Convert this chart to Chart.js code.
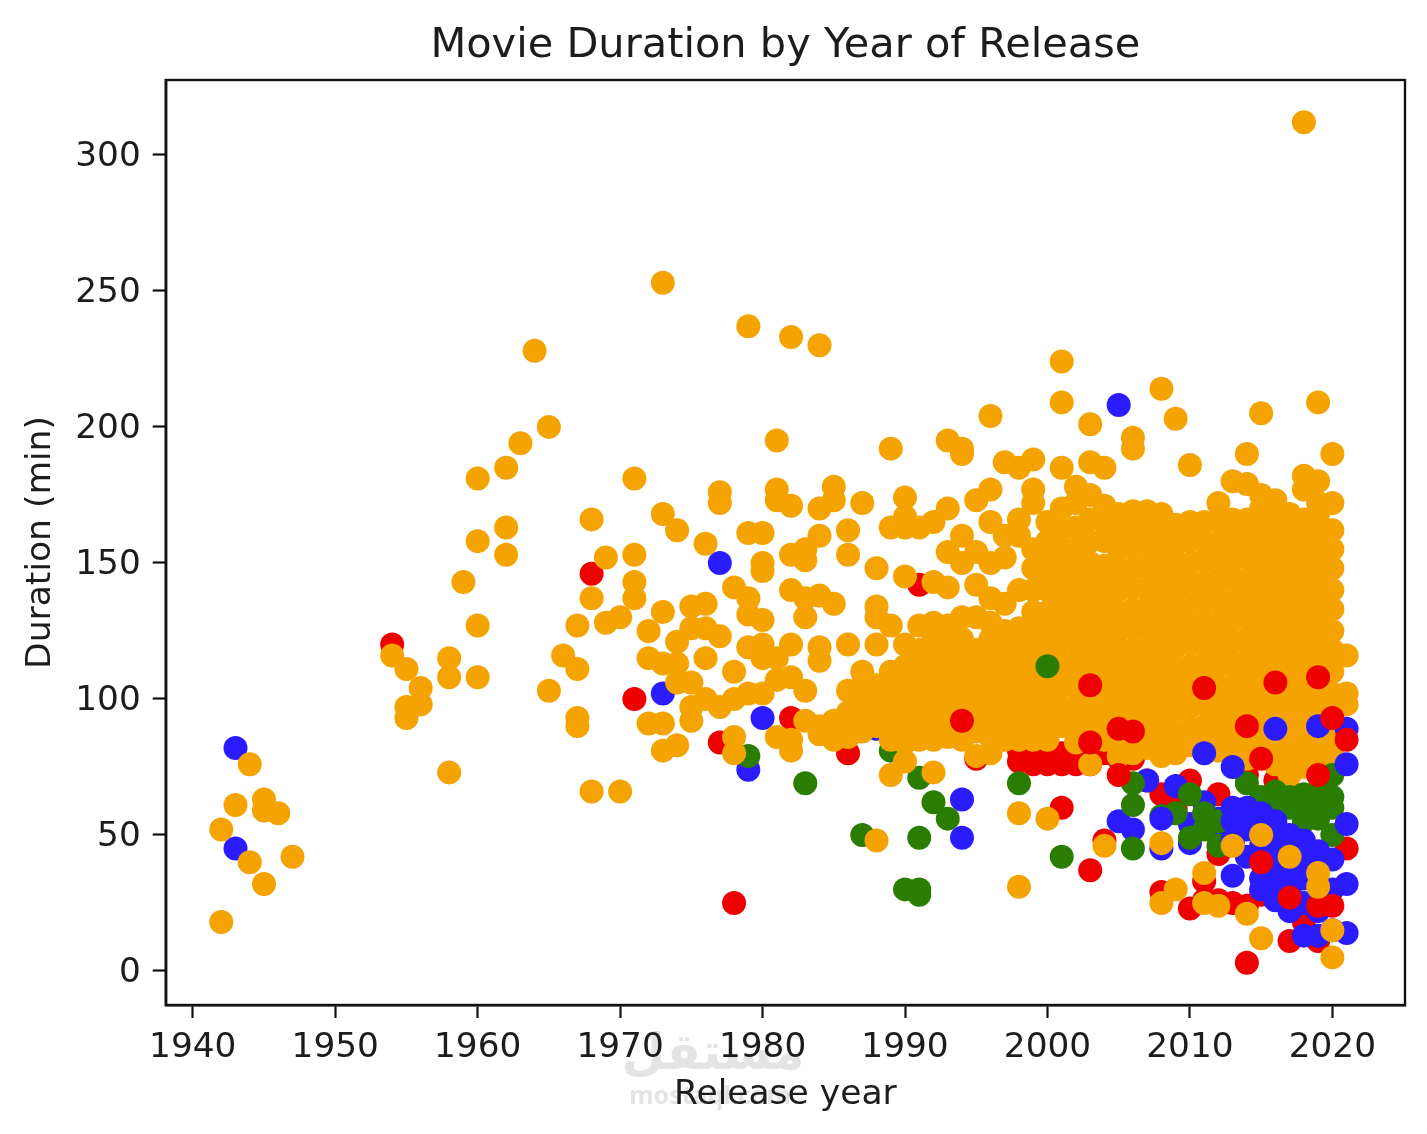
<!DOCTYPE html>
<html>
<head>
<meta charset="utf-8">
<title>Movie Duration by Year of Release</title>
<script src="https://cdn.jsdelivr.net/npm/chart.js@4"></script>
<style>
  html, body { margin: 0; padding: 0; background: #fff; }
  canvas { display: block; }
</style>
</head>
<body>
<canvas id="chart" width="1427" height="1134"></canvas>
<script>
// Tick positions
const xTicks = [1940, 1950, 1960, 1970, 1980, 1990, 2000, 2010, 2020];
const yTicks = [0, 50, 100, 150, 200, 250, 300];

// Main orange group: release years and their durations in minutes
const orangeYears = [1942,1943,1944,1945,1946,1947,1954,1955,1956,1958,1959,1960,1962,1963,1964,1965,1966,1967,1968,1969,1970,1971,1972,1973,1974,1975,1976,1977,1978,1979,1980,1981,1982,1983,1984,1985,1986,1987,1988,1989,1990,1991,1992,1993,1994,1995,1996,1997,1998,1999,2000,2001,2002,2003,2004,2005,2006,2007,2008,2009,2010,2011,2012,2013,2014,2015,2016,2017,2018,2019,2020,2021];
const orangeDurations = [
  [52,18],[61],[76,40],[63,59,32],[58],[42],[116],[111,97,93],[104,98],[115,108,73],[143],[181,158,127,108],
  [185,163,153],[194],[228],[200,103],[116],[127,111,93,90],[166,137,66],[152,128],[130,66],[181,153,143,137],
  [125,115,91],[253,168,132,113,91,81],[162,121,113,106,83],[134,126,106,97,92],[157,135,126,115,100],
  [176,172,123,97],[141,110,100,86,80],[237,161,137,131,119,102],[161,150,147,129,120,115,102],
  [195,177,173,115,107,86],[233,171,153,140,120,108,85,81],[155,151,137,130,103,92],
  [230,170,160,138,119,114,90,87],[178,173,135,92,88,85],[162,153,120,103,95,90,86],[172,110,105,97,92,88],
  [148,134,130,120,105,100,95,90,48],[192,163,127,110,104,100,95,90,85,72],[174,167,163,145,120,112,106,100,95,90,84,77],
  [163,127,118,112,106,100,95,90,85],[165,143,128,122,116,110,105,100,95,90,85,73],[195,170,154,141,127,122,116,110,104,98,92,86],
  [192,190,160,150,130,122,115,108,102,96,90,85],[173,154,142,130,118,112,106,100,94,88,79],[204,177,165,150,137,128,122,116,110,104,98,92,86,80],
  [187,160,152,135,125,120,114,108,102,96,90,85],[185,166,160,140,126,120,114,108,102,96,90,85,58,31],[188,177,172,155,148,140,132,126,120,114,108,102,96,90,85],
  [165,158,150,145,140,132,126,120,114,108,102,96,90,85,56],[224,209,185,170,162,155,150,144,138,133,128,120,112,105,97,90],
  [178,172,163,155,147,140,133,126,119,112,104,97,90,84],[201,187,175,166,158,150,143,136,128,121,114,107,100,93,87,76],
  [185,171,165,158,149,141,134,127,120,113,106,99,92,85],[168,162,155,147,140,132,125,118,110,103,96,84,79],
  [196,192,169,163,156,148,141,133,126,118,111,104,97,90,83,80],[169,163,155,148,140,133,125,118,110,102,95,87,82],
  [214,168,161,154,146,138,131,123,116,108,100,93,86,79],[203,164,157,150,142,134,126,119,111,103,96,88,80],
  [186,165,158,150,143,135,127,120,112,105,97,89,83],[165,158,151,143,136,128,121,113,106,98,90,84],
  [172,165,157,150,143,135,127,119,112,104,96,88,81],[180,166,159,151,144,136,129,121,113,105,98,90,83],
  [190,179,166,159,152,144,137,130,122,114,107,99,92,84,78],[205,175,170,163,155,148,141,133,126,118,110,102,95,87,80],
  [173,166,159,151,144,137,129,122,114,107,99,91,84,76],[168,164,156,148,141,133,126,118,110,103,95,88,80,72],
  [312,182,177,166,159,151,144,136,129,121,113,105,98,90,82,75],[209,180,172,168,160,153,146,138,130,123,115,107,100,92,85,78],
  [190,172,162,155,148,140,133,125,118,110,102,96,88,80],[116,102,98]
];

// Short orange titles that sit above the crowded lower corner
const orangeLowYears = [2004,2008,2009,2011,2012,2013,2014,2015,2017,2019,2020];
const orangeLowDurations = [[46],[47,25],[30],[36,25],[24],[46],[21],[50,12],[42],[36,31],[15,5]];

// Marks that stay visible over the main orange group
const redTopYears = [1994,2003,2005,2006,2011,2014,2015,2016,2017,2019,2020,2021];
const redTopDurations = [[92],[105,84,37],[89,72],[88],[104],[90],[78,40],[106],[27],[108,72,24],[93,24],[85]];

const blueTopYears = [2008,2011,2013,2014,2015,2016,2017,2018,2019,2020,2021];
const blueTopDurations = [[56],[80],[75,60,55,48],[60,56,52],[58,52,46,30],[89,55,48,42,33,26],[50,44,40,34,28],[48,40,34,13],[90,44,13],[41,15],[89,76,54,32,14]];

const greenTopYears = [2000,2006,2010,2012,2014,2015,2016,2017,2018,2019,2020];
const greenTopDurations = [[112],[69,61,45],[49],[46],[69],[64,60],[66,58],[64,60],[65,60,55],[66,60,56],[72,64,60,50]];

// Marks that lie underneath the main orange group
const greenYears = [1979,1983,1987,1988,1989,1990,1991,1992,1993,1998,2001,2008,2009,2010,2011,2012];
const greenDurations = [[79],[69],[50],[92],[81],[30],[71,49,30,28],[62],[56],[69],[42],[57],[58],[65],[58,52],[55]];

const blueYears = [1943,1973,1977,1979,1980,1988,1994,2005,2006,2007,2008,2009,2010,2011,2012,2013,2014,2015,2016,2017,2018,2019,2020];
const blueDurations = [
  [82,45],[102],[150],[74],[93],[89],[63,49],[208,55],[52],[70],[45],[68],[54,47],[62],[56,50],[35,47],[42],[34],[38],[30,22],[25],[97,22],[76,30]
];

const redYears = [1954,1968,1971,1977,1978,1982,1986,1991,1995,1998,1999,2000,2001,2002,2003,2004,2005,2006,2007,2008,2009,2010,2011,2012,2013,2014,2015,2016,2017,2018,2019,2021];
const redDurations = [
  [120],[146],[100],[84],[25],[93],[80],[142],[78],[81,77],[76,82],[76,84],[60,76,80],[76,80],[84,76],[48,80],[78],[78],[112,70],
  [120,29,65],[60,58],[142,23,70],[33,26],[26,65,43],[25,50],[3,72,24],[28],[70,35],[11,30,66],[18,23],[11],[45]
];

const orange = '#f5a300', red = '#ee0000', blue = '#2a1cff', green = '#2a7d00';
const font = 'DejaVu Sans';

// Pair each year with its list of durations to get scatter points
const toPoints = (years, durations) =>
  years.flatMap((x, i) => durations[i].map(y => ({ x, y })));

const series = (years, durations, color) => ({
  data: toPoints(years, durations),
  backgroundColor: color,
  borderWidth: 0,
  pointRadius: 12,
  pointHoverRadius: 12
});

// Closes the plot frame on all four sides
const frame = {
  id: 'frame',
  afterDatasetsDraw(chart) {
    const { ctx, chartArea: a } = chart;
    ctx.save();
    ctx.strokeStyle = '#111';
    ctx.lineWidth = 2.4;
    ctx.strokeRect(a.left, a.top, a.right - a.left, a.bottom - a.top);
    ctx.restore();
  }
};

// Faint site mark underneath the x axis labels
const siteMark = {
  id: 'siteMark',
  beforeDraw(chart) {
    const { ctx } = chart;
    ctx.save();
    ctx.fillStyle = '#e4e4e4';
    ctx.textAlign = 'center';
    ctx.textBaseline = 'middle';
    ctx.font = 'bold 50px "DejaVu Sans"';
    ctx.fillText('مستقل', 713, 1056);
    ctx.font = 'bold 25px "Noto Sans"';
    ctx.fillText('mostaql.com', 710, 1097);
    ctx.restore();
  }
};

Chart.defaults.font.family = font;
Chart.defaults.color = '#1c1c1c';

new Chart(document.getElementById('chart'), {
  type: 'scatter',
  data: {
    // The first dataset is painted last, so it ends up on top
    datasets: [
      series(orangeLowYears, orangeLowDurations, orange),
      series(redTopYears, redTopDurations, red),
      series(blueTopYears, blueTopDurations, blue),
      series(greenTopYears, greenTopDurations, green),
      series(orangeYears, orangeDurations, orange),
      series(greenYears, greenDurations, green),
      series(blueYears, blueDurations, blue),
      series(redYears, redDurations, red)
    ]
  },
  options: {
    responsive: false,
    animation: false,
    layout: { padding: { left: 0, right: 22, top: 0, bottom: 0 } },
    plugins: {
      legend: { display: false },
      tooltip: { enabled: false },
      title: {
        display: true,
        fullSize: false,
        text: 'Movie Duration by Year of Release',
        color: '#1c1c1c',
        font: { family: font, size: 41.5, weight: 'normal', lineHeight: 1.2 },
        padding: { top: 21, bottom: 9.2 }
      }
    },
    scales: {
      x: {
        type: 'linear',
        min: 1938.1,
        max: 2025.1,
        afterBuildTicks: s => { s.ticks = xTicks.map(value => ({ value })); },
        afterFit: s => { s.height = 129; },
        ticks: {
          autoSkip: false,
          maxRotation: 0,
          padding: 10,
          font: { size: 34.3 },
          callback: v => String(v)
        },
        grid: { drawOnChartArea: false, drawTicks: true, tickLength: 13, tickColor: '#111', tickWidth: 2.2 },
        border: { display: true, color: '#111', width: 2.4 },
        title: { display: true, text: 'Release year', font: { size: 34.5 }, padding: { top: 4, bottom: 18 } }
      },
      y: {
        type: 'linear',
        min: -12.5,
        max: 327.5,
        afterBuildTicks: s => { s.ticks = yTicks.map(value => ({ value })); },
        afterFit: s => { s.width = 165.7; },
        ticks: { padding: 12, labelOffset: 2, font: { size: 34.3 }, callback: v => String(v) },
        grid: { drawOnChartArea: false, drawTicks: true, tickLength: 13, tickColor: '#111', tickWidth: 2.2 },
        border: { display: true, color: '#111', width: 2.4 },
        title: { display: true, text: 'Duration (min)', font: { size: 34.5 }, padding: { top: 20, bottom: 0 } }
      }
    }
  },
  plugins: [siteMark, frame]
});
</script>
</body>
</html>
